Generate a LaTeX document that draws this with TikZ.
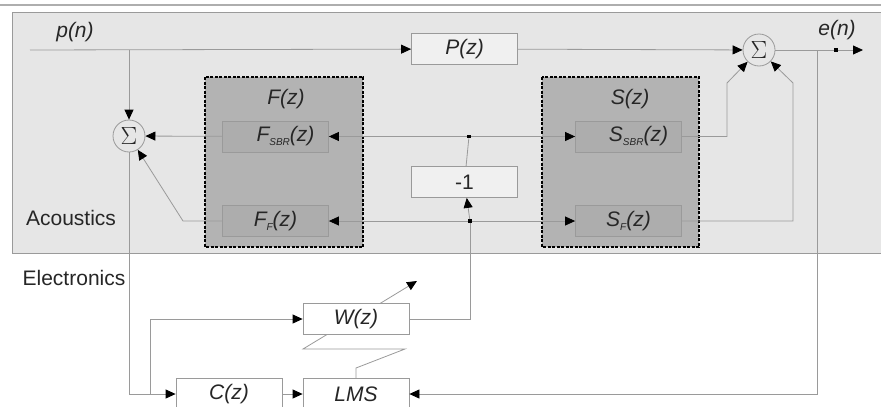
\documentclass[tikz,border=0pt]{standalone}
\usepackage{fontspec}
\setmainfont{Liberation Sans}
\usetikzlibrary{arrows.meta}

\definecolor{acoustic}{HTML}{E6E6E6}
\definecolor{groupgray}{HTML}{B3B3B3}
\definecolor{innergray}{HTML}{ADADAD}
\definecolor{linegray}{HTML}{9A9A9A}
\definecolor{textgray}{HTML}{262626}

\newcommand{\lowtxt}[1]{\raisebox{-4pt}{\fontsize{10}{10}\selectfont #1}}

\begin{document}
\begin{tikzpicture}[x=1pt, y=-1pt,
  font=\fontsize{21}{25}\selectfont, text=textgray,
  wire/.style={draw=linegray, line width=0.8pt},
  tip/.style={-{Triangle[length=10pt,width=9pt,color=black]}},
  block/.style={draw=linegray, line width=0.8pt, minimum width=106pt, minimum height=31pt, inner sep=0pt},
  sumnode/.style={circle, draw=linegray, line width=0.8pt, fill=acoustic, minimum size=32pt, inner sep=0pt, font=\fontsize{24}{24}\selectfont},
  jdot/.style={fill=black, inner sep=0pt, minimum size=3.5pt},
  group/.style={draw=black, line width=1.2pt, dash pattern=on 3pt off 1.5pt, fill=groupgray}]
\useasboundingbox (0,0) rectangle (881,407);

% areas
\draw[draw=linegray!80, line width=1.5pt] (0,5) -- (881,5);
\draw[draw=linegray, fill=acoustic, line width=0.8pt] (12,12) rectangle (890,253);
\draw[group] (205,77) rectangle (363,247);
\draw[group] (542,77) rectangle (699,247);

\node at (71,218) {Acoustics};
\node at (74,278) {Electronics};
\node at (286,99) {\textit{F(z)}};
\node at (630,99) {\textit{S(z)}};
\node at (75,32) {\textit{p(n)}};
\node at (837,30) {\textit{e(n)}};

% blocks
\node [block, fill=acoustic!60!white] (pz) at (464.5,49) {\textit{P(z)}};
\node [block, fill=acoustic!60!white] (minus) at (464.5,182) {-1};
\node [block, fill=innergray] (fsbr) at (275.5,136.5) {\hspace*{20pt}\textit{F\lowtxt{SBR}(z)}};
\node [block, fill=innergray] (ff) at (275.5,221) {\textit{F\lowtxt{F}(z)}};
\node [block, fill=innergray] (ssbr) at (628.5,136.5) {\hspace*{20pt}\textit{S\lowtxt{SBR}(z)}};
\node [block, fill=innergray] (sf) at (628.5,221) {\textit{S\lowtxt{F}(z)}};
\node [block, fill=white] (wz) at (356,319) {\textit{W(z)}};
\node [block, fill=white] (cz) at (229,394) {\textit{C(z)}};
\node [block, fill=white] (lms) at (356,394) {\textit{LMS}};
\node [sumnode] (sum1) at (129,136) {$\Sigma$};
\node [sumnode] (sum2) at (759,50) {$\Sigma$};

% junctions
\node [jdot] (jtop) at (469,136.5) {};
\node [jdot] (jbot) at (470,221) {};
\node [jdot] (jout) at (836,50) {};
\coordinate (pin) at (30,50);
\coordinate (tap1) at (129,50);
\coordinate (tap2) at (817,50);
\coordinate (eout) at (863,50);
\coordinate (wzadapt) at (380,303.5);
\coordinate (wztip) at (417,281);

% acoustic paths
\draw[wire, tip] (pin) -- (pz);
\draw[wire, tip] (pz) -- (sum2);
\draw[wire, tip] (tap1) -- (sum1);
\draw[wire, tip] (fsbr) -- (sum1);
\draw[wire, tip] (ff.west) -- (183,221) -- (sum1);
\draw[wire, tip] (ssbr.east) -- (727,136.5) -- (727,83) -- (sum2);
\draw[wire, tip] (sf.east) -- (793,221) -- (793,83) -- (sum2);
\draw[wire] (sum2) -- (jout);
\draw[wire, tip] (jout) -- (eout);

% secondary paths
\draw[wire] (minus) -- (jtop);
\draw[wire, tip] (jtop) -- (fsbr);
\draw[wire, tip] (jtop) -- (ssbr);
\draw[wire, tip] (jbot) -- (minus);
\draw[wire, tip] (jbot) -- (ff);
\draw[wire, tip] (jbot) -- (sf);
\draw[wire] (wz.east) -- (470,319) -- (jbot);

% electronics
\draw[wire, tip] (sum1.south) -- (129,394) -- (cz.west);
\draw[wire, tip] (150,394) -- (150,319) -- (wz.west);
\draw[wire, tip] (cz) -- (lms);
\draw[wire, tip] (tap2) -- (817,394) -- (lms.east);
\draw[wire, tip] (wzadapt) -- (wztip);
\draw[wire] (327,334.5) -- (303,349) -- (405,349) -- (356,368) -- (lms.north);
\end{tikzpicture}
\end{document}
